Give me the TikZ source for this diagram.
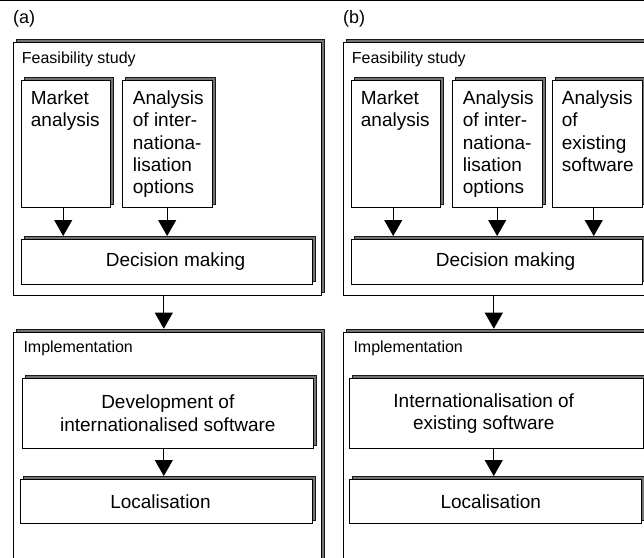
\documentclass[tikz,border=0pt]{standalone}
\usepackage{fontspec}
\setmainfont{Liberation Sans}
\usetikzlibrary{arrows.meta,shadows}
\begin{document}
\begin{tikzpicture}[x=1pt,y=-1pt,
  box/.style={draw=black, line width=0.9pt, fill=white, inner sep=0pt, anchor=north west,
    copy shadow={shadow xshift=3pt, shadow yshift=3pt, fill=black!55, draw=black!90, line width=0.9pt}},
  big/.style={font=\fontsize{19}{22.3}\selectfont},
  small/.style={font=\fontsize{16}{19}\selectfont},
  flow/.style={line width=0.9pt, -{Triangle[width=18pt,length=16pt]}, shorten >=3pt},
  lbl/.style={inner sep=0pt, anchor=base west, align=left},
  ctr/.style={big, inner sep=0pt, align=center}]
\useasboundingbox (0,0) rectangle (644,557);
\clip (0,0) rectangle (644,557);
\fill[white] (0,0) rectangle (644,557);
\draw[line width=1.2pt] (0,0.6) -- (644,0.6);

% ---------- (a) ----------
% multi-line labels are anchored at the baseline of their last line
\node[lbl, font=\fontsize{18}{20}\selectfont] (labA) at (13,23) {(a)};
\node[box, minimum width=308.5pt, minimum height=253.5pt] (feaA) at (12.5,41.5) {};
\node[lbl, small] (feaAt) at (21.7,63.5) {Feasibility study};
\node[box, minimum width=89.3pt, minimum height=127pt] (mktA) at (20.7,80) {};
\node[lbl, big] (mktAt) at (30.7,126.5) {Market\\analysis};
\node[box, minimum width=90pt, minimum height=127pt] (intA) at (121.7,80) {};
\node[lbl, big] (intAt) at (132.7,193.7) {Analysis\\of inter-\\nationa-\\lisation\\options};
\node[box, minimum width=291pt, minimum height=45pt] (decA) at (20.7,239) {};
\node[ctr] (decAt) at ([xshift=9pt]decA.center) {Decision making};
\draw[flow] ([xshift=-2.6pt]mktA.south) -- ([xshift=-2.6pt]mktA.south |- decA.north);
\draw[flow] (intA.south) -- (intA.south |- decA.north);

\node[box, minimum width=307.7pt, minimum height=260pt] (impA) at (13.3,331.7) {};
\draw[flow] ([xshift=-3.4pt]feaA.south) -- ([xshift=-3.4pt]feaA.south |- impA.north);
\node[lbl, small] (impAt) at (23.3,352.5) {Implementation};
\node[box, minimum width=291.3pt, minimum height=70.3pt] (devA) at (21.7,377.7) {};
\node[ctr] (devAt) at (devA.center) {Development of\\internationalised software};
\node[box, minimum width=292pt, minimum height=44.3pt] (locA) at (20,479) {};
\node[ctr] (locAt) at ([xshift=-6pt]locA.center) {Localisation};
\draw[flow] ([xshift=-4pt]devA.south) -- ([xshift=-4pt]devA.south |- locA.north);

% ---------- (b) ----------
\node[lbl, font=\fontsize{18}{20}\selectfont] (labB) at (343,23) {(b)};
\node[box, minimum width=308.5pt, minimum height=253.5pt] (feaB) at (342.5,41.5) {};
\node[lbl, small] (feaBt) at (351.7,63.5) {Feasibility study};
\node[box, minimum width=89.3pt, minimum height=127pt] (mktB) at (350.7,80) {};
\node[lbl, big] (mktBt) at (360.7,126.5) {Market\\analysis};
\node[box, minimum width=90pt, minimum height=127pt] (intB) at (451.7,80) {};
\node[lbl, big] (intBt) at (462.7,193.7) {Analysis\\of inter-\\nationa-\\lisation\\options};
\node[box, minimum width=90pt, minimum height=127pt] (exsB) at (551.7,80) {};
\node[lbl, big] (exsBt) at (561.7,171.4) {Analysis\\of\\existing\\software};
\node[box, minimum width=291pt, minimum height=45pt] (decB) at (350.7,239) {};
\node[ctr] (decBt) at ([xshift=9pt]decB.center) {Decision making};
\draw[flow] ([xshift=-2.6pt]mktB.south) -- ([xshift=-2.6pt]mktB.south |- decB.north);
\draw[flow] (intB.south) -- (intB.south |- decB.north);
\draw[flow] ([xshift=-3.4pt]exsB.south) -- ([xshift=-3.4pt]exsB.south |- decB.north);

\node[box, minimum width=307.7pt, minimum height=260pt] (impB) at (343.3,331.7) {};
\draw[flow] ([xshift=-3.4pt]feaB.south) -- ([xshift=-3.4pt]feaB.south |- impB.north);
\node[lbl, small] (impBt) at (353.3,352.5) {Implementation};
\node[box, minimum width=294pt, minimum height=70.3pt] (devB) at (349.3,377.7) {};
\node[ctr] (devBt) at ([xshift=-13pt]devB.center) {Internationalisation of\\existing software};
\node[box, minimum width=292pt, minimum height=44.3pt] (locB) at (349.3,479) {};
\node[ctr] (locBt) at ([xshift=-5pt]locB.center) {Localisation};
\draw[flow] ([xshift=-3pt]devB.south) -- ([xshift=-3pt]devB.south |- locB.north);
\end{tikzpicture}
\end{document}
